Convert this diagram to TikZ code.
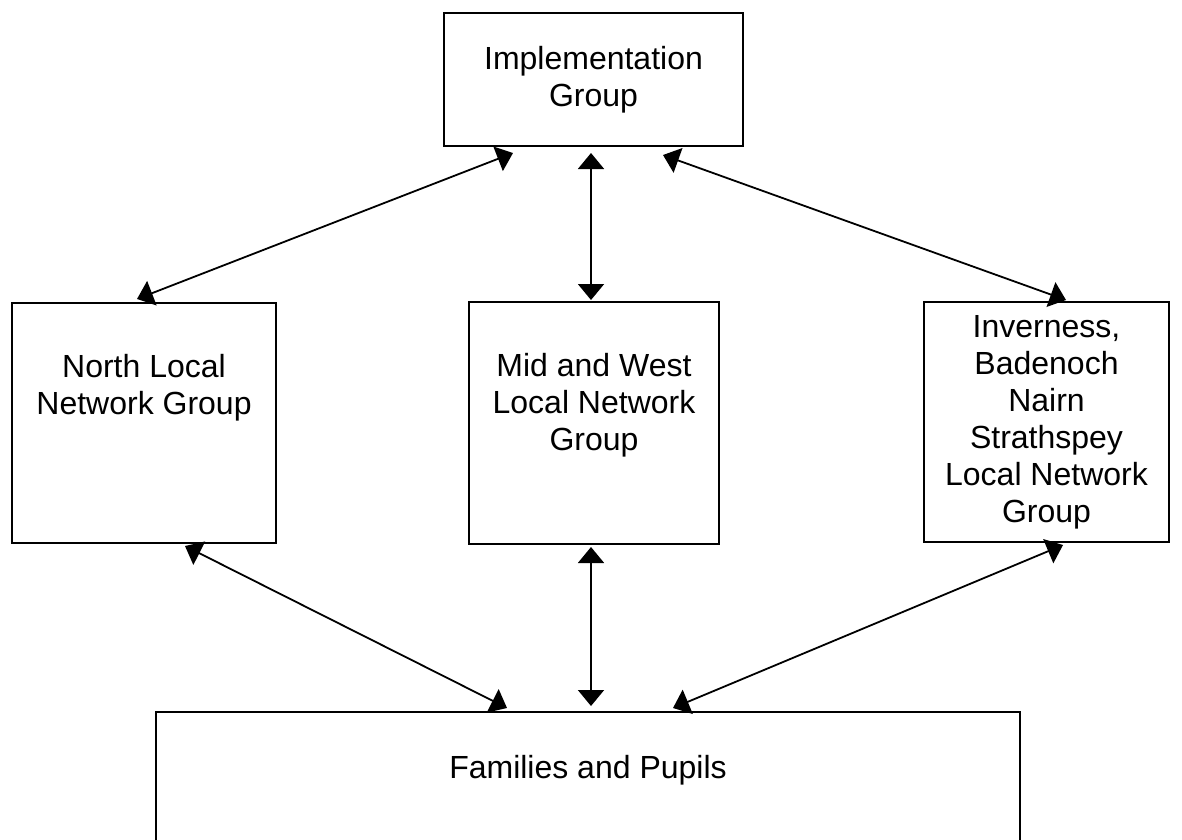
\documentclass[tikz,border=0pt]{standalone}
\usepackage{fontspec}
\setmainfont{Liberation Sans}
\usepackage{tikz}
\usetikzlibrary{positioning, calc, arrows.meta}

\tikzset{
    groupbox/.style = {draw, rectangle, line width = 2pt, align = center,
        font = \fontsize{32}{37}\selectfont},
    grouptext/.style = {align = center, font = \fontsize{32}{37}\selectfont},
    link/.style = {{Triangle[length = 16pt, width = 26pt]}-{Triangle[length =
        16pt, width = 26pt]}, line width = 1.8pt}
}

\begin{document}
\begin{tikzpicture}[x = 1pt, y = -1pt]
        \clip (0,0) rectangle (1182,839);
        \fill [white] (0,0) rectangle (1182,839);
        % the boxes
        \node [groupbox, minimum width = 299pt, minimum height = 133pt]
        (impl) at (593.5,79.5) {Implementation\\Group};
        \node [groupbox, minimum width = 264pt, minimum height = 240pt]
        (north) at (144,423) {};
        \node [groupbox, minimum width = 250pt, minimum height = 242pt]
        (mid) at (594,423) {};
        \node [groupbox, minimum width = 245pt, minimum height = 240pt]
        (inv) at (1046.5,422) {Inverness,\\Badenoch\\Nairn\\Strathspey\\Local
        Network\\Group};
        \node [groupbox, minimum width = 864pt, minimum height = 180pt, anchor
        = north] (fam) at (588,711) {};
        % texts sitting high in their boxes
        \node [grouptext] (northtext) at ($(north.north) + (0,85.5)$)
        {North Local\\Network Group};
        \node [grouptext] (midtext) at ($(mid.north) + (0,104)$)
        {Mid and West\\Local Network\\Group};
        \node [grouptext] (famtext) at ($(fam.north) + (0,59)$)
        {Families and Pupils};
        % links
        \draw [link] ($(impl.south) + (-80.5,6)$) -- ($(north.north) + (-7,-3)$);
        \draw [link] ($(impl.south) + (-2.5,6)$) -- ($(mid.north) + (-3,-1)$);
        \draw [link] ($(impl.south) + (69.5,8)$) -- ($(inv.north) + (19.5,-1)$);
        \draw [link] ($(north.south) + (41,2)$) -- ($(fam.north) + (-81,-3)$);
        \draw [link] ($(mid.south) + (-3,2)$) -- ($(fam.north) + (3,-5)$);
        \draw [link] ($(inv.south) + (16.5,2)$) -- ($(fam.north) + (85,-3)$);
    \end{tikzpicture}
\end{document}
